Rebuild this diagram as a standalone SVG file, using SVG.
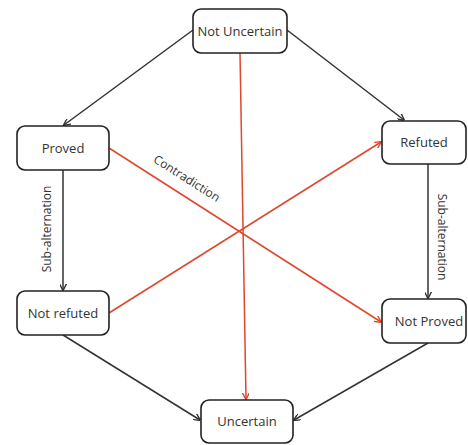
<svg xmlns="http://www.w3.org/2000/svg" width="468" height="445" viewBox="0 0 468 445">
<style>
.box{fill:#fff;stroke:#222;stroke-width:1.6}
.t{font-family:"Open Sans","Liberation Sans",sans-serif;font-size:13px;fill:#333;text-anchor:middle;dominant-baseline:central}
.lb{font-family:"Open Sans","Liberation Sans",sans-serif;font-size:12px;fill:#333;text-anchor:middle;dominant-baseline:central}
.k{stroke:#333;stroke-width:1.5;fill:none;marker-end:url(#ak)}
.r{stroke:#e0462a;stroke-width:1.5;fill:none;marker-end:url(#ar)}
</style>
<defs>
<marker id="ak" viewBox="0 0 10 10" refX="9" refY="5" markerWidth="7" markerHeight="7" orient="auto" markerUnits="userSpaceOnUse"><path d="M0,0 L10,5 L0,10" fill="none" stroke="#333" stroke-width="2"/></marker>
<marker id="ar" viewBox="0 0 10 10" refX="9" refY="5" markerWidth="7" markerHeight="7" orient="auto" markerUnits="userSpaceOnUse"><path d="M0,0 L10,5 L0,10" fill="none" stroke="#e0462a" stroke-width="2"/></marker>
</defs>
<rect width="468" height="445" fill="#fff"/>
<g id="connectors">
<line class="k" x1="193" y1="30" x2="64" y2="125"/>
<line class="k" x1="287" y1="30" x2="404" y2="120"/>
<line class="r" x1="240" y1="53" x2="246" y2="399"/>
<line class="r" x1="109" y1="148" x2="381" y2="322"/>
<line class="r" x1="109" y1="313" x2="381" y2="142"/>
<line class="k" x1="63" y1="170" x2="63" y2="290"/>
<line class="k" x1="428" y1="164" x2="428" y2="298"/>
<line class="k" x1="63" y1="335" x2="200" y2="420"/>
<line class="k" x1="428" y1="343" x2="294" y2="420"/>
<text class="lb" transform="translate(187,178) rotate(32.5)">Contradiction</text>
<text class="lb" transform="translate(46,229) rotate(-90)">Sub-alternation</text>
<text class="lb" transform="translate(442,237) rotate(90)">Sub-alternation</text>
</g>
<g id="not-uncertain"><rect class="box" x="193" y="9" width="94" height="44" rx="8"/><text class="t" x="240" y="31">Not Uncertain</text></g>
<g id="proved"><rect class="box" x="17" y="126" width="92" height="44" rx="8"/><text class="t" x="63" y="148">Proved</text></g>
<g id="refuted"><rect class="box" x="382" y="121" width="84" height="43" rx="8"/><text class="t" x="424" y="142">Refuted</text></g>
<g id="not-refuted"><rect class="box" x="17" y="291" width="92" height="44" rx="8"/><text class="t" x="63" y="313">Not refuted</text></g>
<g id="not-proved"><rect class="box" x="382" y="299" width="84" height="44" rx="8"/><text class="t" x="429" y="321">Not Proved</text></g>
<g id="uncertain"><rect class="box" x="201" y="400" width="92" height="43" rx="8"/><text class="t" x="247" y="421">Uncertain</text></g>
</svg>
